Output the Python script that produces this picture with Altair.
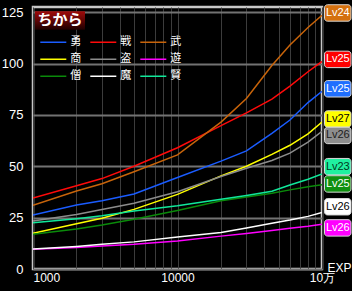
import altair as alt
import pandas as pd

# ---- data ----
exp = [1000, 2000, 3000, 5000, 10000, 20000, 30000, 45000, 60000, 80000, 100000]

yu = [26.3, 31.1, 33.2, 36.5, 44.5, 52.5, 57.5, 66.0, 72.5, 81.0, 86.5]      # 勇
sen = [34.5, 40.5, 44.0, 50.0, 59.0, 69.8, 76.0, 82.7, 89.0, 96.0, 101.0]   # 戦
bu = [31.0, 38.0, 41.5, 47.3, 55.5, 71.5, 83.0, 99.0, 109.0, 117.5, 123.5]  # 武
sho = [17.4, 22.0, 24.7, 29.0, 36.3, 45.3, 50.0, 55.8, 60.2, 65.8, 71.5]    # 商
to = [23.3, 26.5, 29.0, 32.0, 37.6, 45.0, 49.0, 52.8, 56.4, 61.7, 67.0]     # 盗
yuu = [9.6, 10.5, 11.2, 12.0, 13.6, 16.0, 17.3, 18.7, 19.8, 20.8, 21.8]     # 遊
so = [16.9, 19.5, 21.4, 24.2, 28.5, 33.2, 35.0, 36.9, 38.5, 40.0, 41.0]     # 僧
ma = [9.7, 11.0, 12.0, 13.2, 15.6, 17.8, 20.0, 22.3, 23.8, 25.6, 27.5]      # 魔
ken = [22.5, 24.5, 25.9, 28.2, 30.8, 33.9, 35.8, 37.8, 40.9, 43.7, 46.2]    # 賢

classes = ["勇", "戦", "武", "商", "盗", "遊", "僧", "魔", "賢"]
series = [yu, sen, bu, sho, to, yuu, so, ma, ken]
colors = ["#1a5cff", "#ff0a0a", "#c8640a", "#ffff00", "#8c8c8c",
          "#ff00ff", "#0a8a0a", "#ffffff", "#10e89a"]

lab_cls = ["武", "戦", "勇", "商", "盗", "賢", "僧", "魔", "遊"]
lab_txt = ["Lv24", "Lv25", "Lv25", "Lv27", "Lv26", "Lv23", "Lv25", "Lv26", "Lv26"]
lab_pos = [124.6, 102.0, 87.7, 73.0, 65.0, 49.8, 41.4, 30.3, 20.0]
lab_fill = ["#d4700e", "#ff0000", "#1f6fff", "#ffff00", "#8e8e8e",
            "#20f0a0", "#109010", "#ffffff", "#ff00ff"]
lab_ink = ["#ffffff", "#ffffff", "#ffffff", "#000000", "#202020",
           "#003820", "#ffffff", "#000000", "#ffffff"]

grid_vals = [1000, 2000, 3000, 4000, 5000, 6000, 7000, 8000, 9000,
             10000, 20000, 30000, 40000, 50000, 60000, 70000, 80000, 90000, 100000]
y_vals = [0, 25, 50, 75, 100, 125]

rows = []
for c, vals in zip(classes, series):
    for e, v in zip(exp, vals):
        rows.append({"cls": c, "exp": e, "v": v})
df = pd.DataFrame(rows)

labdf = pd.DataFrame({"cls": lab_cls, "lv": lab_txt, "pos": lab_pos,
                      "fill": lab_fill, "ink": lab_ink})
titledf = pd.DataFrame({"t": ["ちから"]})

W, H = 289, 262
xscale = alt.Scale(type="log", domain=[1000, 100000], nice=False)
yscale = alt.Scale(domain=[0, 127.5], nice=False)
NARROW = "Liberation Sans Narrow, Arial Narrow, Liberation Sans"
CJK = "Noto Sans CJK JP"

lines = alt.Chart(df).mark_line(strokeWidth=1.5, clip=True).encode(
    x=alt.X("exp:Q", scale=xscale, axis=alt.Axis(
        values=grid_vals,
        labelExpr="datum.value == 1000 ? '1000' : datum.value == 10000 ? '10000' : datum.value == 100000 ? '10万' : ''",
        grid=True, gridColor="#3c3c3c", gridWidth=1, ticks=False, domain=False,
        labelColor="white", labelFont=NARROW, labelFontSize=12, labelPadding=3,
        labelOverlap=False, labelFlush=False,
        labelAlign={"condition": {"test": "datum.value <= 1000", "value": "left"}, "value": "center"},
        title="EXP", titleColor="white", titleFont="Liberation Sans", titleFontSize=12,
        titleFontWeight="normal", titleX=306, titleY=-2, titleAlign="center",
        titleBaseline="middle")),
    y=alt.Y("v:Q", scale=yscale, axis=alt.Axis(
        values=y_vals, grid=True, gridColor="#727272", gridWidth=2, ticks=False,
        domain=False, labelColor="white", labelFont=NARROW, labelFontSize=13,
        labelPadding=10, title=None)),
    color=alt.Color("cls:N", scale=alt.Scale(domain=classes, range=colors),
                    legend=alt.Legend(orient="none", legendX=6.3, legendY=27.3, columns=3,
                                      direction="horizontal",
                                      title=None, symbolType="stroke", symbolSize=676,
                                      symbolStrokeWidth=1.5, labelColor="white",
                                      labelFont=CJK, labelFontSize=11, labelOffset=3,
                                      columnPadding=8, rowPadding=1, clipHeight=16,
                                      padding=0)),
    detail="cls:N",
)

boxes = alt.Chart(labdf).transform_calculate(
    lo="datum.pos - 4", hi="datum.pos + 4"
).mark_rect(cornerRadius=3, stroke="#d8d8d8", strokeWidth=1, clip=False).encode(
    x=alt.value(291.5), x2=alt.value(318),
    y=alt.Y("lo:Q", scale=yscale, axis=None), y2="hi:Q",
    color=alt.Color("fill:N", scale=None),
)

boxtext = alt.Chart(labdf).mark_text(font="Liberation Sans", fontSize=11, clip=False,
                                     align="center", baseline="middle").encode(
    x=alt.value(304.8),
    y=alt.Y("pos:Q", scale=yscale, axis=None),
    text="lv:N",
    color=alt.Color("ink:N", scale=None),
)

tbox = alt.Chart(titledf).mark_rect(
    color=alt.Gradient(gradient="linear", x1=0, x2=0, y1=0, y2=1,
                       stops=[alt.GradientStop(color="#a00a0a", offset=0),
                              alt.GradientStop(color="#1e0000", offset=1)])
).encode(x=alt.value(2), x2=alt.value(52), y=alt.value(4.3), y2=alt.value(22.7))

ttext = alt.Chart(titledf).mark_text(font=CJK, fontSize=15, fontWeight="bold",
                                     color="white", align="center", baseline="middle").encode(
    x=alt.value(27), y=alt.value(13), text="t:N")

chart = alt.layer(lines, boxes, boxtext, tbox, ttext).resolve_scale(
    color="independent"
).resolve_axis(
    y="independent"
).properties(
    width=W, height=H, background="black",
    padding={"left": 33, "top": 7, "right": 30, "bottom": 22},
    autosize=alt.AutoSizeParams(type="none"),
).configure_view(stroke="#c8c8c8", strokeWidth=2.5)

chart.save("out.html", embed_options={"renderer": "svg", "actions": False})
